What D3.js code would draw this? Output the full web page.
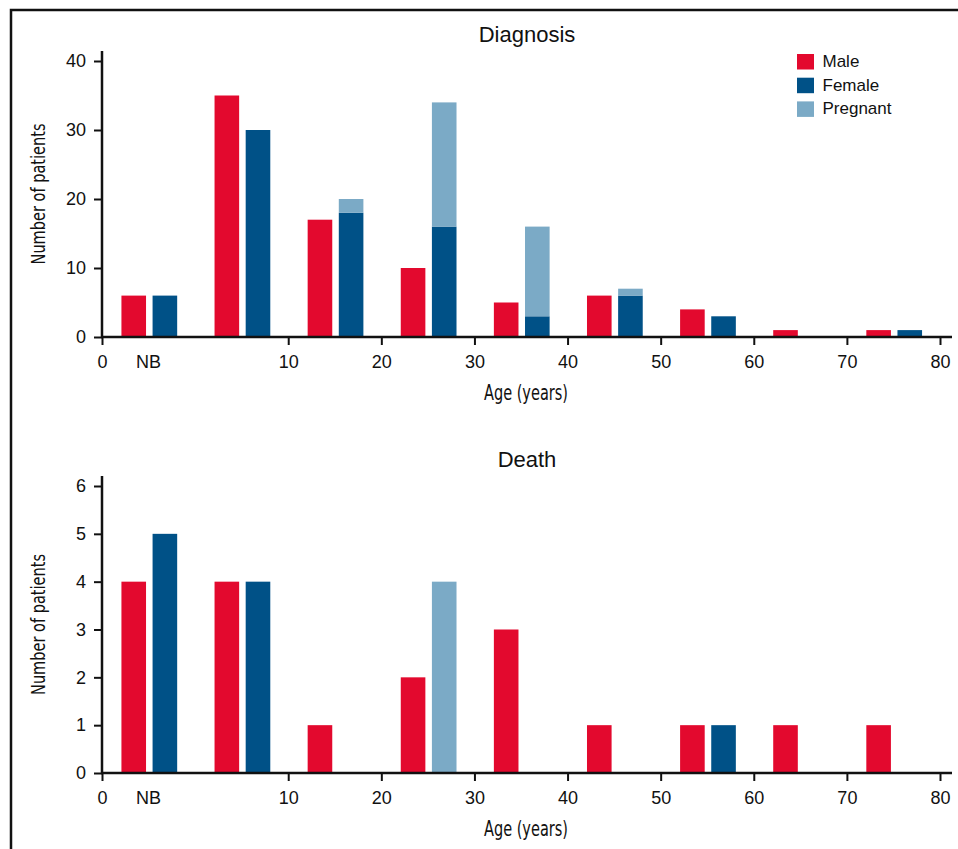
<!DOCTYPE html>
<html>
<head>
<meta charset="utf-8">
<script src="https://cdn.jsdelivr.net/npm/d3@7"></script>
<style>
  html, body { margin: 0; padding: 0; background: #fff; }
  svg { display: block; }
  text { font-family: "Liberation Sans", Arial, Helvetica, sans-serif; fill: #111; }
  .cond { font-family: "Liberation Sans Narrow", "Arial Narrow", "DejaVu Sans Condensed", "Liberation Sans", sans-serif; }
</style>
</head>
<body>
<script>
// ---------- data ----------
const categories = ["NB", "0–9", "10–19", "20–29", "30–39", "40–49", "50–59", "60–69", "70–79"];
const seriesNames = ["Male", "Female", "Pregnant"];

const diagnosisMale     = [6, 35, 17, 10, 5, 6, 4, 1, 1];
const diagnosisFemale   = [6, 30, 18, 16, 3, 6, 3, 0, 1];
const diagnosisPregnant = [0, 0, 2, 18, 13, 1, 0, 0, 0];

const deathMale     = [4, 4, 1, 2, 3, 1, 1, 1, 1];
const deathFemale   = [5, 4, 0, 0, 0, 0, 1, 0, 0];
const deathPregnant = [0, 0, 0, 4, 0, 0, 0, 0, 0];

const xTickLabels = ["0", "10", "20", "30", "40", "50", "60", "70", "80"];
const xTickBoundaries = [0, 2, 3, 4, 5, 6, 7, 8, 9]; // bin boundary index for each label
const diagnosisYTicks = [0, 10, 20, 30, 40];
const deathYTicks = [0, 1, 2, 3, 4, 5, 6];

// ---------- styles ----------
const colors = { Male: "#E3092E", Female: "#005187", Pregnant: "#7BAAC6" };
const W = 958, H = 849;

const svg = d3.select("body").append("svg").attr("width", W).attr("height", H);

// outer frame
svg.append("rect").attr("x", 11).attr("y", 10).attr("width", 1000).attr("height", 1000)
  .attr("fill", "none").attr("stroke", "#111").attr("stroke-width", 2.5);

function panel(opts) {
  const { title, male, female, pregnant, yMax, yTicks, y0, yTop, axisTop, titleY, xTitleY, legend } = opts;
  const left = 102, right = 940;
  const g = svg.append("g");

  const xb = d3.scaleLinear().domain([0, categories.length]).range([left, right]);
  const xBand = d3.scaleBand().domain(categories).range([left, right]).paddingInner(0).paddingOuter(0);
  const xInner = d3.scaleBand().domain(["Male", "Female"]).range([0, xBand.bandwidth()])
    .paddingInner(0.21).paddingOuter(0.6).align(0.52);
  const y = d3.scaleLinear().domain([0, yMax]).range([y0, yTop]);

  const rows = categories.map((c, i) => ({ cat: c, Male: male[i], Female: female[i], Pregnant: pregnant[i] }));

  // male bars
  g.append("g").selectAll("rect").data(rows).join("rect")
    .attr("x", d => xBand(d.cat) + xInner("Male"))
    .attr("width", xInner.bandwidth())
    .attr("y", d => y(d.Male))
    .attr("height", d => y(0) - y(d.Male))
    .attr("fill", colors.Male);

  // female + pregnant stacked
  const stack = d3.stack().keys(["Female", "Pregnant"])(rows);
  g.append("g").selectAll("g").data(stack).join("g")
    .attr("fill", s => colors[s.key])
    .selectAll("rect").data(s => s).join("rect")
    .attr("x", d => xBand(d.data.cat) + xInner("Female"))
    .attr("width", xInner.bandwidth())
    .attr("y", d => y(d[1]))
    .attr("height", d => y(d[0]) - y(d[1]));

  // y axis
  const yAxis = g.append("g").attr("transform", `translate(${left},0)`)
    .call(d3.axisLeft(y).tickValues(yTicks).tickSize(8).tickPadding(8).tickFormat(d3.format("d")));
  yAxis.select(".domain").remove();
  yAxis.selectAll("line").attr("stroke", "#111").attr("stroke-width", 2);
  yAxis.selectAll("text").attr("font-size", 18).attr("fill", "#111").style("font-family", '"Liberation Sans", Arial, sans-serif');
  g.append("line").attr("x1", left).attr("x2", left).attr("y1", axisTop).attr("y2", y0 + 1)
    .attr("stroke", "#111").attr("stroke-width", 2.5);

  // x axis
  const xAxis = g.append("g").attr("transform", `translate(0,${y0})`)
    .call(d3.axisBottom(xb).tickValues(xTickBoundaries).tickSize(8).tickPadding(10)
      .tickFormat((d, i) => xTickLabels[i]));
  xAxis.select(".domain").remove();
  xAxis.selectAll("line").attr("stroke", "#111").attr("stroke-width", 2);
  xAxis.selectAll("text").attr("font-size", 18).attr("fill", "#111").style("font-family", '"Liberation Sans", Arial, sans-serif');
  g.append("line").attr("x1", left - 1).attr("x2", 952).attr("y1", y0).attr("y2", y0)
    .attr("stroke", "#111").attr("stroke-width", 2.5);

  // NB label (no tick)
  g.append("text").attr("x", xb(0.5)).attr("y", y0 + 18).attr("dy", "0.71em")
    .attr("text-anchor", "middle").attr("font-size", 18).text(categories[0]);

  // title
  g.append("text").attr("x", 527).attr("y", titleY).attr("text-anchor", "middle")
    .attr("font-size", 22).text(title);

  // axis titles
  g.append("text").attr("class", "cond").attr("x", 526).attr("y", xTitleY)
    .attr("text-anchor", "middle").attr("font-size", 22)
    .attr("textLength", 84).attr("lengthAdjust", "spacingAndGlyphs").text("Age (years)");

  const cy = (axisTop + y0) / 2;
  g.append("text").attr("class", "cond")
    .attr("transform", `translate(45,${cy}) rotate(-90)`)
    .attr("text-anchor", "middle").attr("font-size", 20)
    .attr("textLength", 141).attr("lengthAdjust", "spacingAndGlyphs").text("Number of patients");

  if (legend) {
    const lg = g.append("g").attr("transform", "translate(797,54)");
    const items = lg.selectAll("g").data(seriesNames).join("g")
      .attr("transform", (d, i) => `translate(0,${i * 23.7})`);
    items.append("rect").attr("width", 17).attr("height", 15.5).attr("fill", d => colors[d]);
    items.append("text").attr("x", 25.5).attr("y", 13).attr("font-size", 17).text(d => d);
  }
}

panel({
  title: "Diagnosis", male: diagnosisMale, female: diagnosisFemale, pregnant: diagnosisPregnant,
  yMax: 40, yTicks: diagnosisYTicks, y0: 337, yTop: 61, axisTop: 51,
  titleY: 42, xTitleY: 400, legend: true
});

panel({
  title: "Death", male: deathMale, female: deathFemale, pregnant: deathPregnant,
  yMax: 6, yTicks: deathYTicks, y0: 773, yTop: 486, axisTop: 476,
  titleY: 467, xTitleY: 836, legend: false
});
</script>
</body>
</html>
